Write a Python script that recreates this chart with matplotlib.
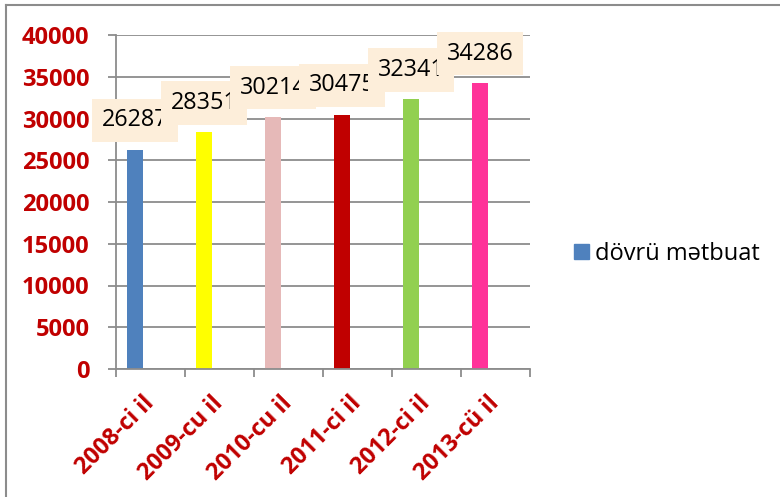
import numpy as np
import matplotlib.pyplot as plt
from matplotlib.lines import Line2D

# data
categories = ['2008-ci il', '2009-cu il', '2010-cu il', '2011-ci il', '2012-ci il', '2013-cü il']
values = [26287, 28351, 30214, 30475, 32341, 34286]
bar_colors = ['#4F81BD', '#FFFF00', '#E6B9B8', '#C00000', '#92D050', '#FF3399']
series_name = 'dövrü mətbuat'
yticks = np.arange(0, 40001, 5000)

plt.rcParams['font.family'] = ['Open Sans', 'DejaVu Sans']
red = '#C00000'
grey = '#8c8c8c'

fig = plt.figure(figsize=(7.8, 4.97), dpi=100)
ax = fig.add_axes([116 / 780, 1 - 369 / 497, (530 - 116) / 780, (369 - 35) / 497])

x = np.arange(len(categories))
# bars sit left of the category centre, like the excel original
bars = ax.bar(x - 0.225, values, width=0.232, color=bar_colors, zorder=2)

for i, (xi, v) in enumerate(zip(x, values)):
    ax.annotate(str(v), xy=(xi - 0.225, v), xytext=(0, 21), textcoords='offset points',
                ha='center', va='center', fontsize=16.8, color='black', zorder=5 + i,
                bbox=dict(boxstyle='square,pad=0.42', fc='#FDEEDA', ec='none'))

ax.set_xlim(-0.5, len(categories) - 0.5)
ax.set_ylim(0, 40000)
ax.set_yticks(yticks)
ax.set_yticklabels([str(t) for t in yticks])
ax.yaxis.grid(True, color=grey, linewidth=1.3)
ax.set_axisbelow(True)

# category boundaries get tick marks, centres get labels
ax.set_xticks(np.arange(-0.5, len(categories)), minor=False)
ax.set_xticklabels([''] * (len(categories) + 1))
ax.set_xticks(x, minor=True)
ax.set_xticklabels(categories, minor=True)
ax.tick_params(axis='x', which='major', length=6, width=1.3, color=grey, direction='out')
ax.tick_params(axis='x', which='minor', length=0, pad=22, labelsize=16.8, labelcolor=red)
for lbl in ax.get_xticklabels(minor=True):
    lbl.set_rotation(45)
    lbl.set_ha('right')
    lbl.set_va('center')
    lbl.set_rotation_mode('anchor')
    lbl.set_fontweight('bold')
ax.tick_params(axis='y', length=6, width=1.3, color=grey, pad=13, labelsize=17, labelcolor=red)
for lbl in ax.get_yticklabels():
    lbl.set_fontweight('bold')

for s in ['top', 'right']:
    ax.spines[s].set_visible(False)
for s in ['left', 'bottom']:
    ax.spines[s].set_color(grey)
    ax.spines[s].set_linewidth(1.3)

# legend on the right
handle = plt.Rectangle((0, 0), 1, 1, color=bar_colors[0])
fig.legend([handle], [series_name], loc='center left', bbox_to_anchor=(574 / 780, 1 - 254 / 497),
           frameon=False, fontsize=17, handlelength=0.63, handleheight=0.63,
           handletextpad=0.27, borderpad=0, borderaxespad=0)

# chart area border (only top and left visible)
fig.add_artist(Line2D([6 / 780, 1], [1 - 5 / 497, 1 - 5 / 497], color=grey, linewidth=1.5))
fig.add_artist(Line2D([6 / 780, 6 / 780], [0, 1 - 5 / 497], color=grey, linewidth=1.5))

fig.savefig('out.png', dpi=100)
